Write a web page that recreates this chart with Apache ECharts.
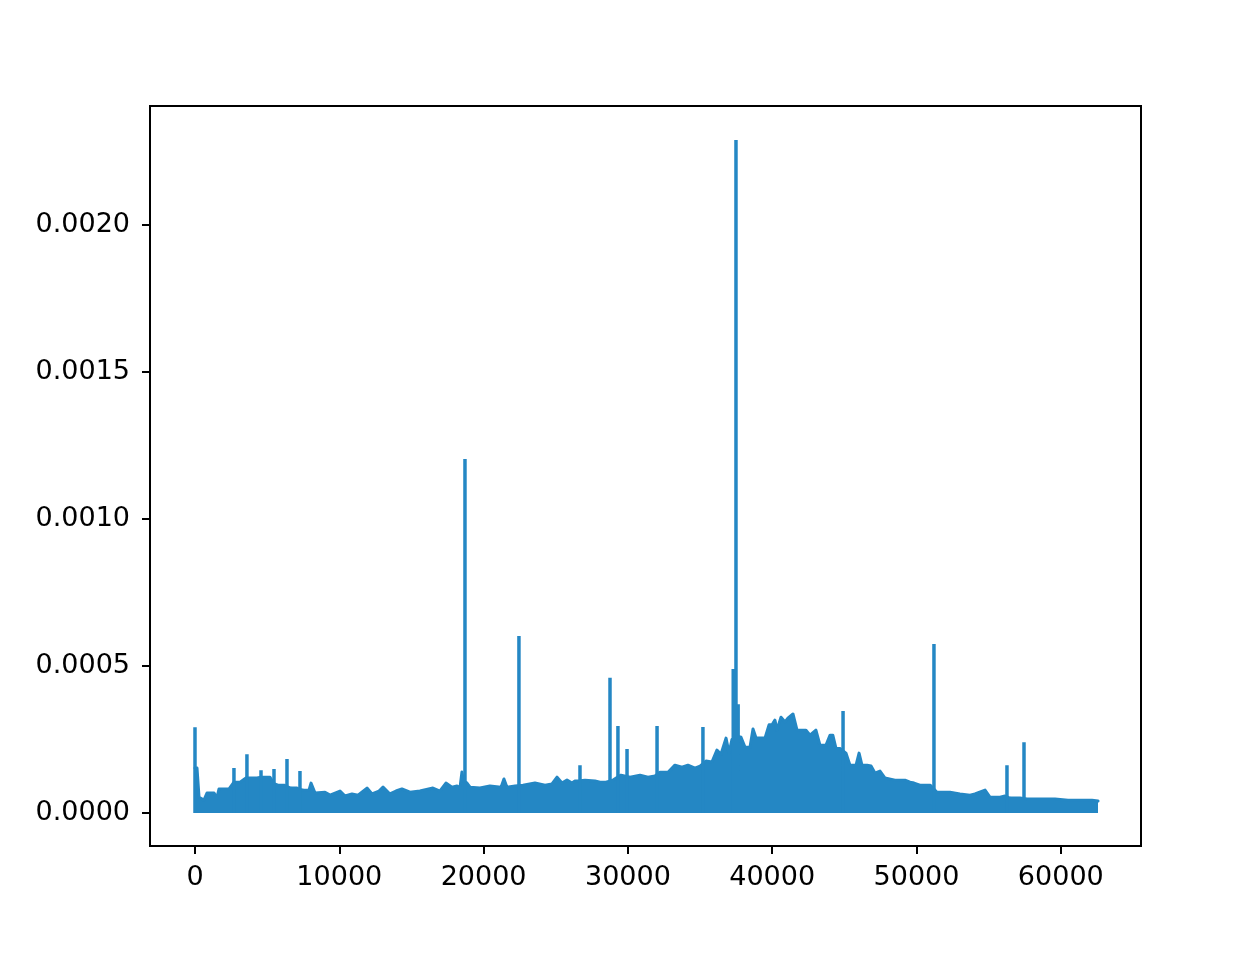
<!DOCTYPE html>
<html>
<head>
<meta charset="utf-8">
<script src="https://cdn.jsdelivr.net/npm/echarts@6/dist/echarts.min.js"></script>
<style>
html,body{margin:0;padding:0;background:#fff;}
#chart{width:1252px;height:958px;}
</style>
</head>
<body>
<div id="chart"></div>
<script>
// Envelope of the dense signal (x index, upper value)
const envX = [0,140,280,620,830,1320,1520,1660,2360,2700,3120,3530,3950,4300,4575,4850,5200,5475,5750,6170,6375,6650,7070,7275,7550,7900,8040,8320,9010,9360,10050,10400,10880,11300,11920,12270,12750,13030,13510,13930,14340,14900,15590,16490,16980,17390,17810,18160,18360,18500,18600,18850,19060,19750,20440,21210,21410,21620,22180,22730,23560,24260,24740,25090,25430,25780,26130,26330,26680,27030,27720,28070,28480,28970,29520,30150,30840,31390,31880,32220,32780,33260,33750,34160,34650,35000,35410,35830,36170,36450,36800,37010,37210,37420,37700,37840,38120,38460,38670,38880,39500,39780,39990,40190,40330,40610,40890,41090,41440,41720,42340,42620,43030,43310,43730,44010,44200,44420,44700,45110,45390,45810,46020,46220,46570,46850,47120,47470,47820,48510,49200,49550,49830,50240,50940,51420,52320,53010,53710,54050,54750,55090,55790,56130,56480,57170,57660,58560,59600,60500,61330,62160,62580];
const envY = [1.53e-4,1.53e-4,5.4e-5,4.4e-5,6.8e-5,6.8e-5,5.1e-5,8.2e-5,8.2e-5,1.05e-4,1.05e-4,1.19e-4,1.19e-4,1.19e-4,1.22e-4,1.22e-4,1.22e-4,1.0e-4,9.5e-5,9.5e-5,9.0e-5,8.5e-5,8.5e-5,8.0e-5,7.8e-5,7.8e-5,1.02e-4,6.8e-5,7.1e-5,6.1e-5,7.5e-5,5.8e-5,6.5e-5,6.1e-5,8.5e-5,6.5e-5,7.5e-5,8.8e-5,6.5e-5,7.5e-5,8.2e-5,7.1e-5,7.5e-5,8.5e-5,7.5e-5,1.02e-4,8.8e-5,9.2e-5,8.5e-5,1.4e-4,1.1e-4,1.02e-4,8.8e-5,8.5e-5,9.2e-5,8.8e-5,1.16e-4,8.8e-5,9.2e-5,9.5e-5,1.02e-4,9.5e-5,9.9e-5,1.22e-4,1.02e-4,1.12e-4,1.02e-4,1.09e-4,1.1e-4,1.12e-4,1.09e-4,1.05e-4,1.05e-4,1.12e-4,1.29e-4,1.22e-4,1.29e-4,1.22e-4,1.26e-4,1.39e-4,1.39e-4,1.63e-4,1.56e-4,1.63e-4,1.53e-4,1.6e-4,1.77e-4,1.74e-4,2.14e-4,2.0e-4,2.55e-4,2.04e-4,2.5e-4,2.5e-4,2.6e-4,2.58e-4,2.24e-4,2.24e-4,2.86e-4,2.55e-4,2.55e-4,3.0e-4,3.0e-4,3.16e-4,2.82e-4,3.26e-4,3.1e-4,3.23e-4,3.37e-4,2.82e-4,2.82e-4,2.65e-4,2.82e-4,2.31e-4,2.31e-4,2.65e-4,2.65e-4,2.2e-4,2.2e-4,2.04e-4,1.63e-4,1.63e-4,2.04e-4,1.63e-4,1.63e-4,1.6e-4,1.36e-4,1.43e-4,1.19e-4,1.12e-4,1.12e-4,1.05e-4,1.02e-4,9.5e-5,9.5e-5,7.1e-5,7.1e-5,6.5e-5,6.1e-5,6.5e-5,7.8e-5,5.4e-5,5.4e-5,5.8e-5,5.1e-5,5.1e-5,4.8e-5,4.8e-5,4.8e-5,4.4e-5,4.4e-5,4.4e-5,4.1e-5];

// Isolated spikes (x index, peak value)
const spikeX = [0,2700,3600,4575,5475,6375,7275,18710,22450,26680,28760,29310,29940,32020,35200,37300,37490,37640,44910,51210,56270,57450];
const spikeY = [2.92e-4,1.53e-4,2.0e-4,1.46e-4,1.5e-4,1.84e-4,1.43e-4,1.204e-3,6.02e-4,1.63e-4,4.6e-4,2.96e-4,2.18e-4,2.96e-4,2.93e-4,4.9e-4,2.289e-3,3.7e-4,3.47e-4,5.75e-4,1.63e-4,2.41e-4];

const xTicks = [0,10000,20000,30000,40000,50000,60000];
const yTicks = [0,0.0005,0.0010,0.0015,0.0020];

const COLOR = '#2487c4';
const envData = envX.map((x,i)=>[x, envY[i]]);
const spikeData = [];
spikeX.forEach((x,i)=>{ spikeData.push([x,0],[x,spikeY[i]],[x,'-']); });

const font = {fontFamily:'DejaVu Sans', fontSize:27, color:'#000'};
const chart = echarts.init(document.getElementById('chart'), null, {renderer:'canvas'});
chart.setOption({
  animation:false,
  backgroundColor:'#fff',
  grid:{left:150,right:111,top:106,bottom:112,show:true,borderColor:'#000',borderWidth:2,backgroundColor:'transparent'},
  xAxis:{
    type:'value', min:-3118, max:65558,
    axisLine:{show:false,onZero:false},
    axisTick:{show:true,length:8,lineStyle:{color:'#000',width:2},customValues:xTicks},
    axisLabel:Object.assign({margin:18,customValues:xTicks,formatter:v=>String(v)},font),
    splitLine:{show:false}
  },
  yAxis:{
    type:'value', min:-0.000112, max:0.0024048,
    axisLine:{show:false,onZero:false},
    axisTick:{show:true,length:8,lineStyle:{color:'#000',width:2},customValues:yTicks},
    axisLabel:Object.assign({margin:20,customValues:yTicks,formatter:v=>v.toFixed(4)},font),
    splitLine:{show:false}
  },
  series:[
    {type:'line',data:envData,showSymbol:false,symbol:'none',
     lineStyle:{color:COLOR,width:3,cap:'round',join:'round'},
     areaStyle:{color:COLOR,opacity:1,origin:0}},
    {type:'line',data:spikeData,showSymbol:false,symbol:'none',connectNulls:false,
     lineStyle:{color:COLOR,width:3.5,cap:'butt'}}
  ]
});
</script>
</body>
</html>
